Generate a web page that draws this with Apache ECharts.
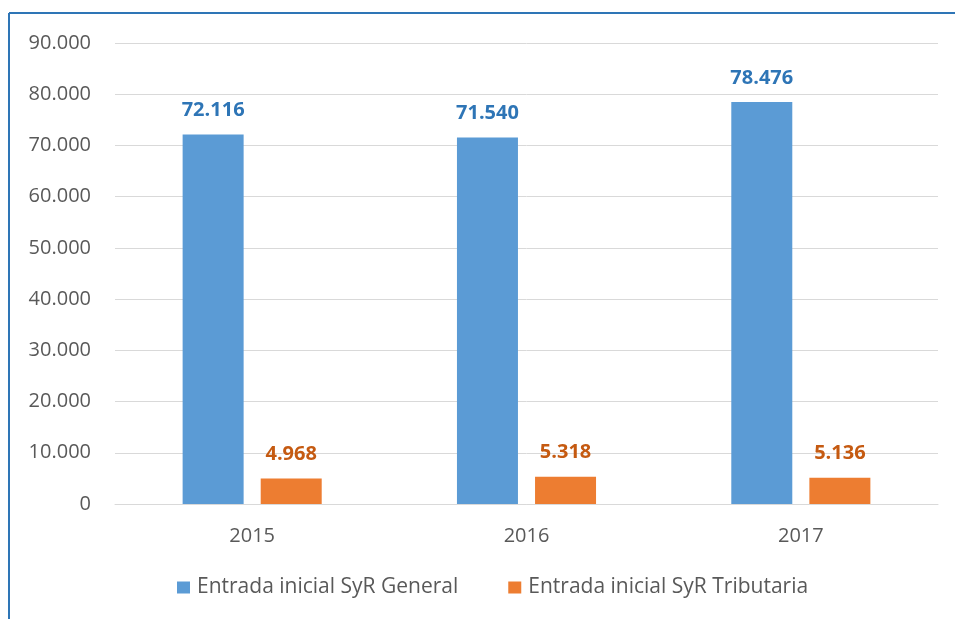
<!DOCTYPE html>
<html>
<head>
<meta charset="utf-8">
<script src="https://cdn.jsdelivr.net/npm/echarts@6/dist/echarts.min.js"></script>
<style>
  html, body { margin: 0; padding: 0; background: #fff; }
  #chart { width: 955px; height: 619px; }
</style>
</head>
<body>
<div id="chart"></div>
<script>
  var years = ['2015', '2016', '2017'];
  var general = [72116, 71540, 78476];
  var tributaria = [4968, 5318, 5136];
  var seriesNames = ['Entrada inicial SyR General', 'Entrada inicial SyR Tributaria'];

  // separador de miles con punto
  function fmt(v) {
    return String(v).replace(/\B(?=(\d{3})+(?!\d))/g, '.');
  }

  var font = 'Open Sans';
  var chart = echarts.init(document.getElementById('chart'));
  var option = {
    animation: false,
    textStyle: { fontFamily: font },
    graphic: [
      { type: 'line', shape: { x1: 9, y1: 13, x2: 955, y2: 13 }, style: { stroke: '#2e75b6', lineWidth: 2 } },
      { type: 'line', shape: { x1: 9, y1: 13, x2: 9, y2: 619 }, style: { stroke: '#2e75b6', lineWidth: 2 } }
    ],
    legend: {
      data: seriesNames,
      bottom: 16,
      left: 172,
      itemWidth: 13,
      itemHeight: 12,
      itemGap: 50,
      icon: 'rect',
      textStyle: { fontFamily: font, fontSize: 21, color: '#595959', padding: [0, 0, 0, 2] }
    },
    grid: { left: 115, right: 17, top: 43, bottom: 115 },
    xAxis: {
      type: 'category',
      data: years,
      axisTick: { show: false },
      axisLine: { lineStyle: { color: '#d9d9d9' } },
      axisLabel: { fontFamily: font, fontSize: 20, color: '#595959', margin: 22 }
    },
    yAxis: {
      type: 'value',
      min: 0,
      max: 90000,
      interval: 10000,
      axisLine: { show: false },
      axisTick: { show: false },
      splitLine: { lineStyle: { color: '#d9d9d9', width: 1 } },
      axisLabel: { fontFamily: font, fontSize: 20, color: '#595959', margin: 24, formatter: fmt }
    },
    series: [
      {
        name: seriesNames[0],
        type: 'bar',
        data: general,
        barWidth: 61,
        barGap: '28%',
        itemStyle: { color: '#5b9bd5' },
        label: {
          show: true, position: 'top', distance: 14,
          fontFamily: font, fontSize: 20, fontWeight: 'bold', color: '#2e75b6',
          formatter: function (p) { return fmt(p.value); }
        }
      },
      {
        name: seriesNames[1],
        type: 'bar',
        data: tributaria,
        barWidth: 61,
        barGap: '28%',
        itemStyle: { color: '#ed7d31' },
        label: {
          show: true, position: 'top', distance: 14,
          fontFamily: font, fontSize: 20, fontWeight: 'bold', color: '#c55a11',
          formatter: function (p) { return fmt(p.value); }
        }
      }
    ]
  };
  chart.setOption(option);
</script>
</body>
</html>
